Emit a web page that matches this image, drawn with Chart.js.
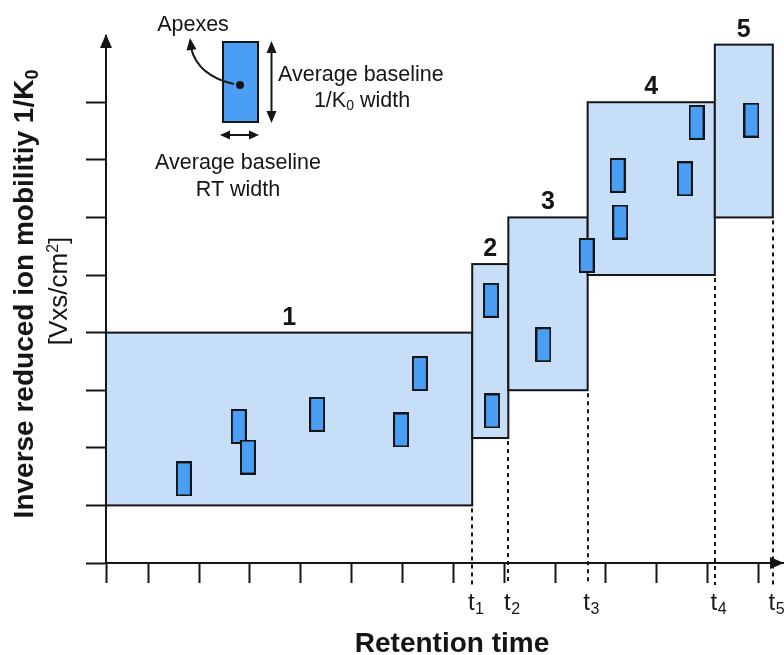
<!DOCTYPE html>
<html>
<head>
<meta charset="utf-8">
<script src="https://cdn.jsdelivr.net/npm/chart.js@4.4.1/dist/chart.umd.min.js"></script>
<style>
  html, body { margin: 0; padding: 0; background: #fff; }
  #wrap { width: 784px; height: 655px; }
</style>
</head>
<body>
<div id="wrap"><canvas id="myChart" width="784" height="655"></canvas></div>
<script>
// window right edges on the RT axis (t1..t5)
const windowEnds = [7.37, 8.08, 9.64, 12.14, 13.28];
// 1/K0 range of each window
const windowLow = [1, 2.17, 3, 5, 6];
const windowHigh = [4, 5.19, 6, 8, 9];
const windowNames = ['1', '2', '3', '4', '5'];
const tSubs = ['1', '2', '3', '4', '5'];

// feature apexes (RT, 1/K0)
const featureRT = [1.70, 2.78, 2.96, 4.32, 5.97, 6.34, 7.74, 7.76, 8.77, 9.62, 10.23, 10.28, 11.55, 11.78, 12.86];
const featureIM = [1.46, 2.37, 1.84, 2.58, 2.31, 3.29, 4.56, 2.64, 3.79, 5.34, 6.73, 5.92, 6.67, 7.65, 7.69];

const xTicks = [1, 2, 3, 4, 5, 6, 7, 8, 9, 10, 11, 12, 13];
const yTicks = [0, 1, 2, 3, 4, 5, 6, 7, 8];

const lineColor = '#151515';
const windowFill = '#c6def7';
const featureFill = '#4a9ef4';
const FONT = "'Liberation Sans', Arial, Helvetica, sans-serif";

function makeFeatureGlyph(w, h) {
    let c = document.createElement('canvas');
    c.width = w;
    c.height = h;
    let g = c.getContext('2d');
    g.fillStyle = featureFill;
    g.fillRect(1, 1, w - 2, h - 2);
    g.lineWidth = 2;
    g.strokeStyle = lineColor;
    g.strokeRect(1, 1, w - 2, h - 2);
    return c;
}

function arrowHead(ctx, x, y, dir, len, half) {
    // dir: 'up', 'down', 'left', 'right' - tip at (x, y)
    ctx.beginPath();
    ctx.moveTo(x, y);
    if (dir === 'up') { ctx.lineTo(x - half, y + len); ctx.lineTo(x + half, y + len); }
    if (dir === 'down') { ctx.lineTo(x - half, y - len); ctx.lineTo(x + half, y - len); }
    if (dir === 'left') { ctx.lineTo(x + len, y - half); ctx.lineTo(x + len, y + half); }
    if (dir === 'right') { ctx.lineTo(x - len, y - half); ctx.lineTo(x - len, y + half); }
    ctx.closePath();
    ctx.fill();
}

const windowPlugin = {
    id: 'windows',
    beforeDatasetsDraw(chart) {
        const { ctx } = chart;
        const x = chart.scales.x, y = chart.scales.y;
        ctx.save();
        ctx.lineWidth = 2;
        ctx.strokeStyle = lineColor;
        ctx.fillStyle = windowFill;
        windowEnds.forEach((end, i) => {
            let left = x.getPixelForValue(i === 0 ? x.min : windowEnds[i - 1]);
            let right = x.getPixelForValue(end);
            let top = y.getPixelForValue(windowHigh[i]);
            let bottom = y.getPixelForValue(windowLow[i]);
            ctx.fillRect(left, top, right - left, bottom - top);
            ctx.strokeRect(left, top, right - left, bottom - top);
        });
        // dotted t lines
        ctx.setLineDash([4, 4]);
        windowEnds.forEach((end, i) => {
            let px = Math.round(x.getPixelForValue(end));
            ctx.beginPath();
            ctx.moveTo(px, y.getPixelForValue(windowLow[i]) + 3);
            ctx.lineTo(px, x.bottom + 2);
            ctx.stroke();
        });
        ctx.setLineDash([]);
        // window numbers
        ctx.fillStyle = lineColor;
        ctx.font = 'bold 25px ' + FONT;
        ctx.textAlign = 'center';
        ctx.textBaseline = 'alphabetic';
        windowEnds.forEach((end, i) => {
            let left = x.getPixelForValue(i === 0 ? x.min : windowEnds[i - 1]);
            let right = x.getPixelForValue(end);
            let top = y.getPixelForValue(windowHigh[i]);
            ctx.fillText(windowNames[i], (left + right) / 2, top - 8);
        });
        ctx.restore();
    },
    afterDraw(chart) {
        const { ctx, chartArea } = chart;
        const x = chart.scales.x;
        ctx.save();
        ctx.fillStyle = lineColor;
        ctx.strokeStyle = lineColor;
        // axis arrows
        arrowHead(ctx, chartArea.left, chartArea.top - 2, 'up', 14, 6);
        arrowHead(ctx, chartArea.right, chartArea.bottom, 'right', 14, 6);

        // t labels
        ctx.textBaseline = 'alphabetic';
        windowEnds.forEach((end, i) => {
            let px = x.getPixelForValue(end);
            ctx.font = '24px ' + FONT;
            ctx.textAlign = 'center';
            let tw = ctx.measureText('t').width;
            ctx.fillText('t', px - 1, 610);
            ctx.font = '16px ' + FONT;
            ctx.textAlign = 'left';
            ctx.fillText(tSubs[i], px - 1 + tw / 2 + 0.5, 614);
        });

        // x title
        ctx.font = 'bold 28px ' + FONT;
        ctx.textAlign = 'center';
        ctx.fillText('Retention time', 452, 652);

        // y title (rotated)
        ctx.save();
        ctx.translate(33, 294);
        ctx.rotate(-Math.PI / 2);
        ctx.textAlign = 'left';
        ctx.font = 'bold 28px ' + FONT;
        let main = 'Inverse reduced ion mobilitiy 1/K';
        let mw = ctx.measureText(main).width;
        ctx.font = 'bold 18px ' + FONT;
        let sw = ctx.measureText('0').width;
        let start = -(mw + sw) / 2;
        ctx.font = 'bold 28px ' + FONT;
        ctx.fillText(main, start, 0);
        ctx.font = 'bold 18px ' + FONT;
        ctx.fillText('0', start + mw, 5);
        ctx.restore();

        ctx.save();
        ctx.translate(67, 291);
        ctx.rotate(-Math.PI / 2);
        ctx.textAlign = 'left';
        ctx.font = '26px ' + FONT;
        let a = '[Vxs/cm', b = ']';
        let aw = ctx.measureText(a).width, bw = ctx.measureText(b).width;
        ctx.font = '16px ' + FONT;
        let supw = ctx.measureText('2').width;
        let s0 = -(aw + supw + bw) / 2;
        ctx.font = '26px ' + FONT;
        ctx.fillText(a, s0, 0);
        ctx.fillText(b, s0 + aw + supw, 0);
        ctx.font = '16px ' + FONT;
        ctx.fillText('2', s0 + aw, -9);
        ctx.restore();

        // legend inset
        let bx = 222, by = 41, bwid = 37, bh = 82;
        ctx.fillStyle = featureFill;
        ctx.fillRect(bx + 1, by + 1, bwid - 2, bh - 2);
        ctx.lineWidth = 2;
        ctx.strokeRect(bx + 1, by + 1, bwid - 2, bh - 2);
        ctx.fillStyle = lineColor;
        ctx.beginPath();
        ctx.arc(240, 85, 4, 0, Math.PI * 2);
        ctx.fill();
        // curved pointer to "Apexes"
        ctx.beginPath();
        ctx.moveTo(234, 84);
        ctx.quadraticCurveTo(198, 76, 191, 48);
        ctx.stroke();
        ctx.save();
        ctx.translate(190, 38);
        ctx.rotate(-0.12);
        arrowHead(ctx, 0, 0, 'up', 12, 5);
        ctx.restore();
        // vertical double arrow
        ctx.beginPath();
        ctx.moveTo(271.5, 50);
        ctx.lineTo(271.5, 114);
        ctx.stroke();
        arrowHead(ctx, 271.5, 41, 'up', 12, 5);
        arrowHead(ctx, 271.5, 123, 'down', 12, 5);
        // horizontal double arrow
        ctx.beginPath();
        ctx.moveTo(228, 135);
        ctx.lineTo(251, 135);
        ctx.stroke();
        arrowHead(ctx, 220, 135, 'left', 10, 4.5);
        arrowHead(ctx, 259, 135, 'right', 10, 4.5);

        ctx.font = '21.5px ' + FONT;
        ctx.textAlign = 'center';
        ctx.fillText('Apexes', 193, 31);
        ctx.fillText('Average baseline', 238, 169);
        ctx.fillText('RT width', 238, 196);
        ctx.textAlign = 'left';
        ctx.fillText('Average baseline', 278, 81);
        // "1/K0 width" centered around 362
        let p1 = '1/K', p2 = ' width';
        let w1 = ctx.measureText(p1).width, w2 = ctx.measureText(p2).width;
        ctx.font = '14px ' + FONT;
        let w0 = ctx.measureText('0').width;
        let sx = 362 - (w1 + w0 + w2) / 2;
        ctx.font = '21.5px ' + FONT;
        ctx.fillText(p1, sx, 107);
        ctx.fillText(p2, sx + w1 + w0, 107);
        ctx.font = '14px ' + FONT;
        ctx.fillText('0', sx + w1, 110);
        ctx.restore();
    }
};

const featureGlyph = makeFeatureGlyph(16, 35);

const ctx = document.getElementById('myChart').getContext('2d');
const myChart = new Chart(ctx, {
    type: 'scatter',
    data: {
        datasets: [{
            label: 'features',
            data: featureRT.map((rt, i) => ({ x: rt, y: featureIM[i] })),
            pointStyle: featureGlyph,
            pointRadius: 8,
            pointHoverRadius: 8,
        }]
    },
    options: {
        responsive: false,
        devicePixelRatio: 1,
        animation: false,
        events: [],
        layout: { autoPadding: false, padding: { left: 86, top: 36, right: 0, bottom: 72 } },
        plugins: {
            legend: { display: false },
            tooltip: { enabled: false }
        },
        scales: {
            x: {
                type: 'linear',
                min: 0.17,
                max: 13.5,
                afterBuildTicks: (scale) => {
                    scale.ticks = [{ value: scale.min }, ...xTicks.map(v => ({ value: v }))];
                },
                ticks: { display: false },
                grid: { display: true, drawOnChartArea: false, drawTicks: true, tickLength: 20, tickColor: lineColor, tickWidth: 2 },
                border: { display: true, color: lineColor, width: 2 }
            },
            y: {
                type: 'linear',
                min: 0,
                max: 9.15,
                afterBuildTicks: (scale) => {
                    scale.ticks = yTicks.map(v => ({ value: v }));
                },
                ticks: { display: false },
                grid: { display: true, drawOnChartArea: false, drawTicks: true, tickLength: 20, tickColor: lineColor, tickWidth: 2 },
                border: { display: true, color: lineColor, width: 2 }
            }
        }
    },
    plugins: [windowPlugin]
});
</script>
</body>
</html>
